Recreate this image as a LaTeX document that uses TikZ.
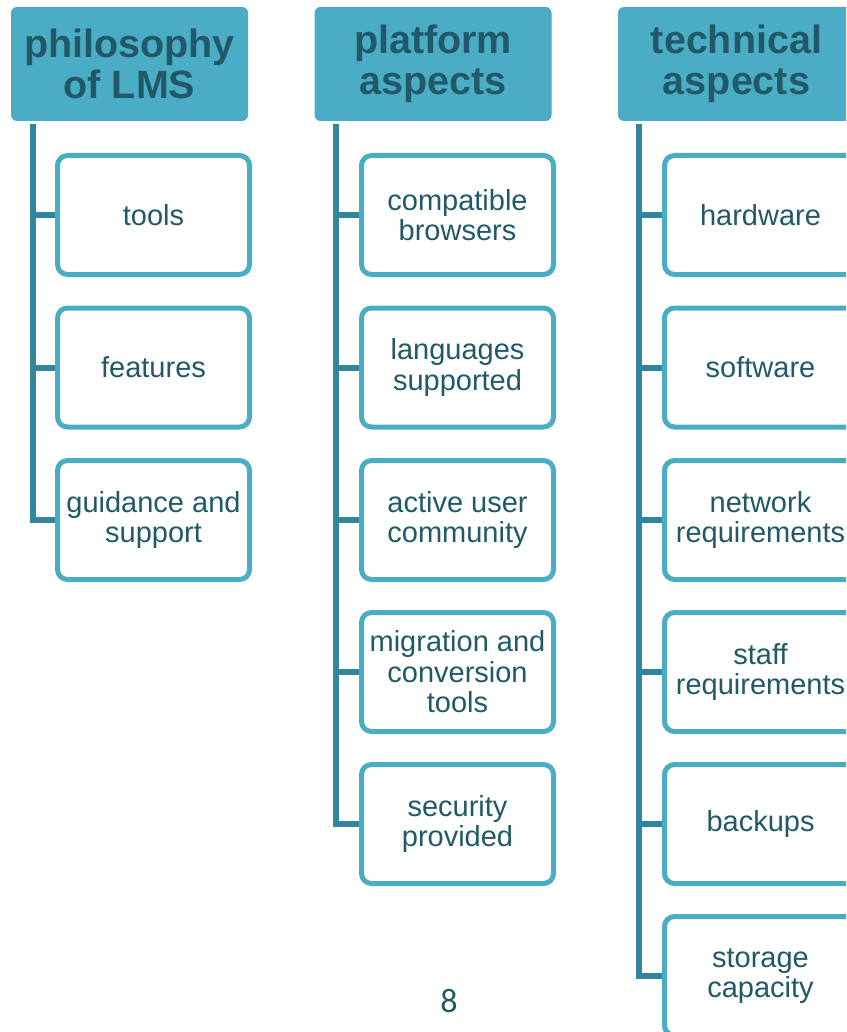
\documentclass[tikz,border=0pt]{standalone}
\usepackage{fontspec}
\setmainfont{Liberation Sans}
\newfontfamily\pagefont{Carlito}
\usepackage{xcolor}
\definecolor{lmsfill}{HTML}{4BACC6}
\definecolor{lmstext}{HTML}{215968}
\definecolor{lmsline}{HTML}{31859C}
\pgfdeclarelayer{background}
\pgfsetlayers{background,main}

\tikzset{
  header/.style={fill=lmsfill, rounded corners=6pt, minimum width=237pt, minimum height=114pt,
    text=lmstext, align=center, font=\fontsize{39.5}{41}\selectfont\bfseries, inner sep=0pt},
  item/.style={draw=lmsfill, fill=white, line width=5pt, rounded corners=10pt,
    minimum width=192pt, minimum height=119pt, text=lmstext, align=center,
    font=\fontsize{29}{30.5}\selectfont, inner sep=0pt},
  trunk/.style={draw=lmsline, line width=6pt}
}

\begin{document}
\begin{tikzpicture}[x=1pt,y=-1pt]
  \clip (0,0) rectangle (846,1032);
  % headers
  \node[header] (h1) at (129.5,64) {philosophy\\of LMS};
  \node[header] (h2) at (433,64) {platform\\aspects};
  \node[header] (h3) at (736.5,64) {technical\\aspects};
  % first column
  \node[item] (a1) at (153.5,215) {tools};
  \node[item] (a2) at (153.5,367.5) {features};
  \node[item] (a3) at (153.5,520) {guidance and\\support};
  % second column
  \node[item] (b1) at (457.5,215) {compatible\\browsers};
  \node[item] (b2) at (457.5,367.5) {languages\\supported};
  \node[item] (b3) at (457.5,520) {active user\\community};
  \node[item] (b4) at (457.5,672) {migration and\\conversion\\tools};
  \node[item] (b5) at (457.5,824) {security\\provided};
  % third column
  \node[item] (c1) at (760.5,215) {hardware};
  \node[item] (c2) at (760.5,367.5) {software};
  \node[item] (c3) at (760.5,520) {network\\requirements};
  \node[item] (c4) at (760.5,672) {staff\\requirements};
  \node[item] (c5) at (760.5,824) {backups};
  \node[item] (c6) at (760.5,976) {storage\\capacity};
  % page number
  \node[text=lmstext, font=\pagefont\fontsize{34}{34}\selectfont] (pg) at (449,1001) {8};
  % connectors
  \coordinate (ta) at (33,124);
  \coordinate (tb) at (336,124);
  \coordinate (tc) at (639,124);
  \begin{pgfonlayer}{background}
    \draw[trunk] (ta) |- (a3.west);
    \draw[trunk] (ta |- a1.west) -- (a1.west);
    \draw[trunk] (ta |- a2.west) -- (a2.west);
    \draw[trunk] (tb) |- (b5.west);
    \draw[trunk] (tb |- b1.west) -- (b1.west);
    \draw[trunk] (tb |- b2.west) -- (b2.west);
    \draw[trunk] (tb |- b3.west) -- (b3.west);
    \draw[trunk] (tb |- b4.west) -- (b4.west);
    \draw[trunk] (tc) |- (c6.west);
    \draw[trunk] (tc |- c1.west) -- (c1.west);
    \draw[trunk] (tc |- c2.west) -- (c2.west);
    \draw[trunk] (tc |- c3.west) -- (c3.west);
    \draw[trunk] (tc |- c4.west) -- (c4.west);
    \draw[trunk] (tc |- c5.west) -- (c5.west);
  \end{pgfonlayer}
\end{tikzpicture}
\end{document}
